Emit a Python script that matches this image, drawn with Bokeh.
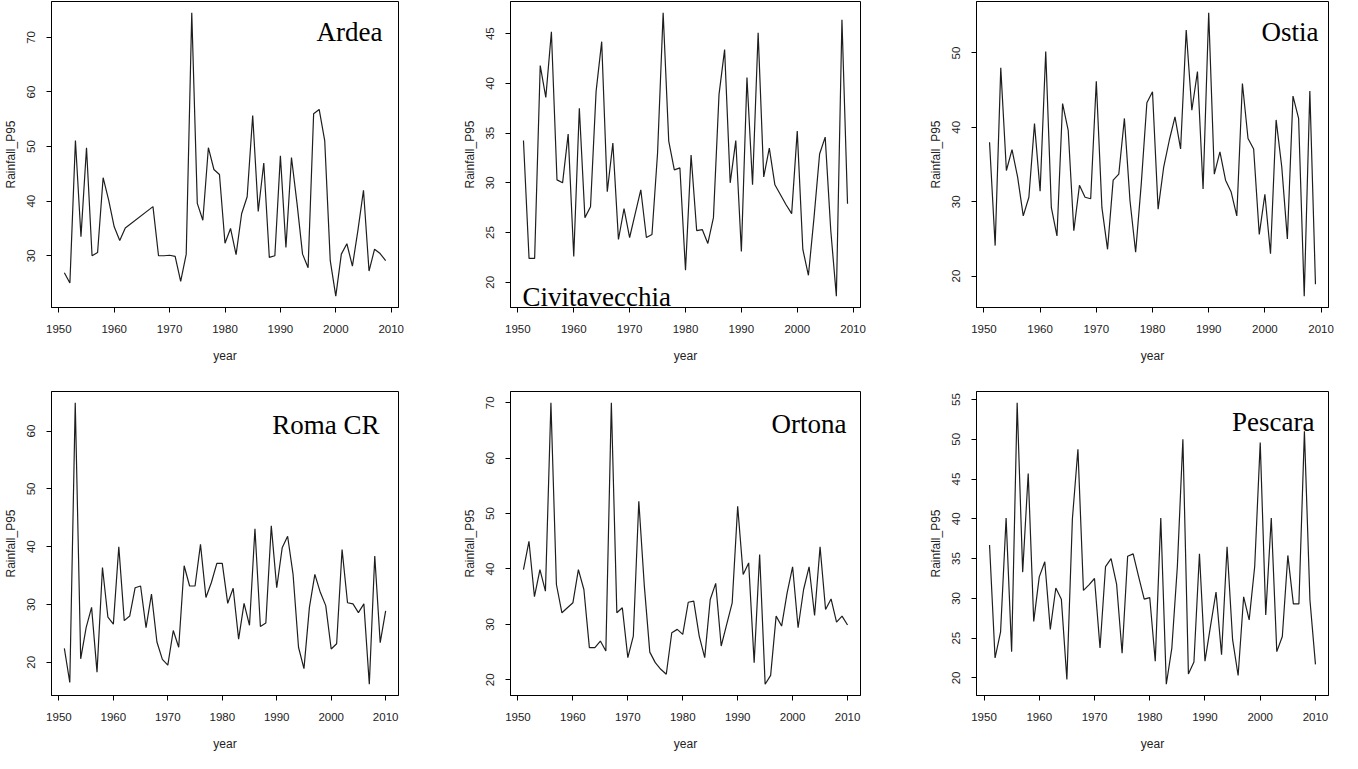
import math
from bokeh.plotting import figure
from bokeh.layouts import gridplot
from bokeh.models import FixedTicker, Range1d, Label
from bokeh.embed import file_html
from bokeh.resources import INLINE

# ---------------- data ----------------
station_names = ["Ardea", "Civitavecchia", "Ostia", "Roma CR", "Ortona", "Pescara"]

ardea_years = list(range(1951, 1963)) + list(range(1967, 2010))
ardea_p95 = [26.9, 25.0, 51.1, 33.5, 49.8, 30.0, 30.6, 44.3, 40.2, 35.3, 32.8, 35.1,
             39.0, 30.0, 30.0, 30.1, 29.9, 25.3, 30.3, 74.5, 39.6, 36.5, 49.8, 45.8,
             44.9, 32.3, 35.0, 30.2, 37.7, 40.8, 55.7, 38.1, 47.0, 29.7, 30.0, 48.3,
             31.5, 48.0, 39.6, 30.3, 27.8, 56.0, 56.8, 51.1, 29.1, 22.6, 30.3, 32.2,
             28.1, 34.7, 42.0, 27.2, 31.2, 30.4, 29.1]

civitavecchia_years = list(range(1951, 2010))
civitavecchia_p95 = [34.25, 22.4, 22.4, 41.8, 38.6, 45.2, 30.3, 30.0, 34.9, 22.6,
                     37.5, 26.5, 27.6, 39.2, 44.2, 29.1, 34.0, 24.3, 27.4, 24.5,
                     26.9, 29.3, 24.5, 24.8, 33.0, 47.1, 34.2, 31.3, 31.5, 21.2,
                     32.8, 25.2, 25.3, 23.9, 26.5, 38.9, 43.4, 30.0, 34.25, 23.1,
                     40.6, 29.8, 45.1, 30.6, 33.5, 29.8, 28.8, 27.8, 26.9, 35.2,
                     23.3, 20.7, 26.5, 32.9, 34.6, 25.2, 18.6, 46.4, 27.9]

ostia_years = list(range(1951, 2010))
ostia_p95 = [38.0, 24.1, 48.0, 34.2, 37.0, 33.3, 28.1, 30.6, 40.5, 31.4,
             50.2, 29.2, 25.4, 43.2, 39.6, 26.1, 32.2, 30.6, 30.4, 46.2,
             29.2, 23.6, 32.9, 33.7, 41.2, 30.1, 23.2, 32.4, 43.3, 44.8,
             29.0, 34.7, 38.3, 41.4, 37.1, 53.1, 42.3, 47.5, 31.7, 55.4,
             33.7, 36.7, 32.9, 31.3, 28.1, 45.9, 38.5, 37.1, 25.6, 31.0,
             23.0, 41.0, 34.7, 25.0, 44.2, 41.2, 17.3, 44.9, 18.9]

roma_years = list(range(1951, 2011))
roma_p95 = [22.4, 16.5, 64.9, 20.6, 26.0, 29.5, 18.3, 36.4, 27.8, 26.6,
            40.0, 27.2, 28.0, 32.9, 33.2, 26.0, 31.8, 23.5, 20.5, 19.5,
            25.5, 22.6, 36.7, 33.2, 33.2, 40.4, 31.2, 33.8, 37.1, 37.1,
            30.2, 32.8, 24.0, 30.2, 26.4, 43.1, 26.2, 26.8, 43.6, 32.9,
            39.8, 41.8, 35.2, 22.6, 18.9, 29.5, 35.2, 32.1, 29.8, 22.3,
            23.2, 39.5, 30.3, 30.1, 28.6, 30.1, 16.2, 38.4, 23.4, 28.9]

ortona_years = list(range(1951, 2011))
ortona_p95 = [39.9, 45.0, 35.0, 39.9, 36.0, 70.0, 37.2, 32.1, 33.0, 33.9,
              39.9, 36.3, 25.8, 25.8, 27.0, 25.2, 70.0, 32.1, 33.0, 24.0,
              27.9, 52.2, 37.0, 25.0, 23.1, 21.9, 21.0, 28.5, 29.1, 28.2,
              34.0, 34.2, 27.9, 24.0, 34.5, 37.4, 26.1, 30.0, 33.9, 51.3,
              39.0, 41.1, 23.1, 42.6, 19.2, 20.8, 31.5, 29.7, 35.7, 40.4,
              29.4, 36.3, 40.4, 31.6, 44.0, 32.7, 34.6, 30.4, 31.5, 29.9]

pescara_years = list(range(1951, 2011))
pescara_p95 = [36.7, 22.5, 25.8, 40.1, 23.3, 54.6, 33.3, 45.7, 27.1, 32.7,
               34.6, 26.1, 31.3, 29.9, 19.8, 40.0, 48.75, 31.0, 31.7, 32.5,
               23.75, 34.0, 35.0, 31.8, 23.1, 35.3, 35.6, 32.7, 29.9, 30.1,
               22.1, 40.1, 19.2, 23.75, 34.0, 50.0, 20.5, 22.0, 35.6, 22.1,
               26.5, 30.8, 22.9, 36.5, 24.8, 20.3, 30.2, 27.3, 34.0, 49.6,
               27.9, 40.1, 23.3, 25.2, 35.4, 29.3, 29.3, 51.0, 29.8, 21.7]

x_tick_years = [1950, 1960, 1970, 1980, 1990, 2000, 2010]
ardea_yticks = [30, 40, 50, 60, 70]
civitavecchia_yticks = [20, 25, 30, 35, 40, 45]
ostia_yticks = [20, 30, 40, 50]
roma_yticks = [20, 30, 40, 50, 60]
ortona_yticks = [20, 30, 40, 50, 60, 70]
pescara_yticks = [20, 25, 30, 35, 40, 45, 50, 55]

x_label = "year"
y_label = "Rainfall_P95"

# ---------------- layout / style ----------------
COLS = [dict(left=50, frame=348, right=60),
        dict(left=52, frame=350, right=64),
        dict(left=52, frame=352, right=14)]
ROWS = [dict(top=1, frame=306, bottom=76),
        dict(top=8, frame=305, bottom=57)]
# (horizontal anchor, inset px, vertical anchor, baseline offset px)
LABEL_POS = [("right", 16, "top", 30), ("left", 12, "bottom", 11), ("right", 10, "top", 30),
             ("right", 19, "top", 34), ("right", 14, "top", 33), ("right", 14, "top", 31)]

SANS = "Liberation Sans"
SERIF = "Liberation Serif"


def r_limits(vals):
    lo, hi = min(vals), max(vals)
    pad = 0.04 * (hi - lo)
    return lo - pad, hi + pad


def make_panel(years, vals, yticks, name, col, row, lab):
    x0, x1 = r_limits(years)
    y0, y1 = r_limits(vals)
    w = col["left"] + col["frame"] + col["right"]
    h = row["top"] + row["frame"] + row["bottom"]
    p = figure(width=w, height=h, x_range=Range1d(x0, x1), y_range=Range1d(y0, y1),
               output_backend="svg", toolbar_location=None,
               min_border_left=col["left"], min_border_right=col["right"],
               min_border_top=row["top"], min_border_bottom=row["bottom"])
    p.line(years, vals, line_color="#1e1e1e", line_width=1.2)
    p.xgrid.visible = False
    p.ygrid.visible = False
    p.outline_line_color = "black"
    p.outline_line_width = 1
    p.outline_line_alpha = 1
    p.background_fill_color = "white"
    p.border_fill_color = "white"
    p.xaxis.ticker = FixedTicker(ticks=x_tick_years)
    p.yaxis.ticker = FixedTicker(ticks=yticks)
    for ax in (p.xaxis[0], p.yaxis[0]):
        ax.axis_line_color = "black"
        ax.major_tick_line_color = "black"
        ax.minor_tick_line_color = None
        ax.major_tick_out = 5
        ax.major_tick_in = 0
        ax.major_label_text_font = SANS
        ax.major_label_text_font_size = "11.5px"
        ax.major_label_text_color = "#222222"
        ax.axis_label_text_font = SANS
        ax.axis_label_text_font_size = "12px"
        ax.axis_label_text_font_style = "normal"
        ax.axis_label_text_color = "#222222"
    p.xaxis.axis_label = x_label
    p.yaxis.axis_label = y_label
    p.yaxis.major_label_orientation = "vertical"
    p.xaxis.major_label_standoff = 12
    p.xaxis.axis_label_standoff = 13
    p.yaxis.major_label_standoff = 11
    p.yaxis.axis_label_standoff = 7

    ux = (x1 - x0) / col["frame"]
    uy = (y1 - y0) / row["frame"]
    halign, inset, valign, off = lab
    lx = x1 - inset * ux if halign == "right" else x0 + inset * ux
    ly = y1 - off * uy if valign == "top" else y0 + off * uy
    p.add_layout(Label(x=lx, y=ly, text=name, text_align=halign, text_baseline="alphabetic",
                       text_font=SERIF, text_font_size="27px", text_color="black"))
    return p


series = [(ardea_years, ardea_p95, ardea_yticks),
          (civitavecchia_years, civitavecchia_p95, civitavecchia_yticks),
          (ostia_years, ostia_p95, ostia_yticks),
          (roma_years, roma_p95, roma_yticks),
          (ortona_years, ortona_p95, ortona_yticks),
          (pescara_years, pescara_p95, pescara_yticks)]

panels = []
for i, (yrs, vals, yt) in enumerate(series):
    r, c = divmod(i, 3)
    panels.append(make_panel(yrs, vals, yt, station_names[i], COLS[c], ROWS[r], LABEL_POS[i]))

grid = gridplot([panels[0:3], panels[3:6]], toolbar_location=None)
open("out.html", "w").write(file_html(grid, INLINE))
